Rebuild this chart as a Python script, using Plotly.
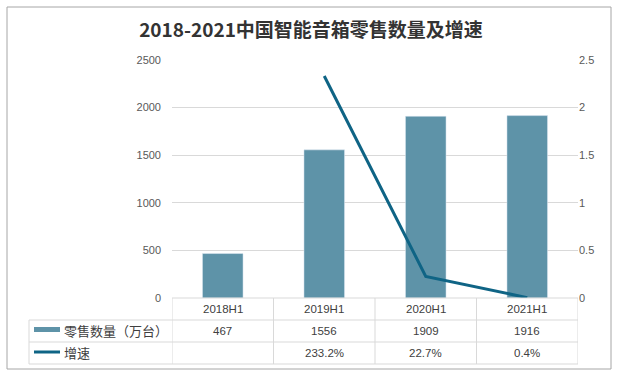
import plotly.graph_objects as go

categories = ["2018H1", "2019H1", "2020H1", "2021H1"]
sales = [467, 1556, 1909, 1916]
growth = [None, 2.332, 0.227, 0.004]
growth_labels = ["", "233.2%", "22.7%", "0.4%"]
left_ticks = [0, 500, 1000, 1500, 2000, 2500]
right_ticks = [0, 0.5, 1, 1.5, 2, 2.5]
right_tick_text = ["0", "0.5", "1", "1.5", "2", "2.5"]
series_names = ["零售数量（万台）", "增速"]
title_text = "2018-2021中国智能音箱零售数量及增速"

BAR = "#5E93A8"
LINE = "#0F6485"
GRID = "#D9D9D9"
TXT = "#595959"
FONT = "Noto Sans CJK SC"
NUMFONT = "Liberation Sans, Noto Sans CJK SC"

W, H = 619, 375
L, R, T, B = 172, 41, 60, 77
pw, ph = W - L - R, H - T - B

def px(x):
    return (x - L) / pw

def py(y):
    return (H - B - y) / ph

fig = go.Figure()
fig.add_trace(go.Bar(x=categories, y=sales, marker_color=BAR, width=0.4,
                     name=series_names[0], yaxis="y"))
fig.add_trace(go.Scatter(x=categories, y=growth, mode="lines",
                         line=dict(color=LINE, width=3), name=series_names[1],
                         yaxis="y2", connectgaps=False))

shapes = []
line_style = dict(color=GRID, width=1)
# outer border
shapes.append(dict(type="rect", xref="paper", yref="paper",
                   x0=px(7), x1=px(611), y0=py(369), y1=py(7),
                   line=dict(color="#A6A6A6", width=1), fillcolor="rgba(0,0,0,0)", layer="below"))
# table horizontal lines
row_y = [298, 320, 342, 364]
for i, yy in enumerate(row_y):
    x0 = px(172) if i == 0 else px(29)
    shapes.append(dict(type="line", xref="paper", yref="paper",
                       x0=x0, x1=1, y0=py(yy), y1=py(yy), line=line_style))
# table vertical lines
shapes.append(dict(type="line", xref="paper", yref="paper",
                   x0=px(29), x1=px(29), y0=py(320), y1=py(364), line=line_style))
for k in range(len(categories) + 1):
    shapes.append(dict(type="line", xref="x", yref="paper",
                       x0=k - 0.5, x1=k - 0.5, y0=py(298), y1=py(364), line=line_style))
# legend swatches
shapes.append(dict(type="rect", xref="paper", yref="paper",
                   x0=px(34), x1=px(60), y0=py(332), y1=py(327),
                   fillcolor=BAR, line=dict(width=0)))
shapes.append(dict(type="line", xref="paper", yref="paper",
                   x0=px(34), x1=px(60), y0=py(352), y1=py(352),
                   line=dict(color=LINE, width=3)))

annotations = []
fnt = dict(family=NUMFONT, size=11.5, color="#404040")
for i, c in enumerate(categories):
    annotations.append(dict(x=i, xref="x", y=py(309), yref="paper", yanchor="middle", text=c,
                            showarrow=False, font=fnt))
    annotations.append(dict(x=i, xref="x", y=py(331), yref="paper", yanchor="middle", text=str(sales[i]),
                            showarrow=False, font=fnt))
    annotations.append(dict(x=i, xref="x", y=py(353), yref="paper", yanchor="middle", text=growth_labels[i],
                            showarrow=False, font=fnt))
annotations.append(dict(x=px(62), xref="paper", y=py(330), yref="paper", yanchor="middle", text=series_names[0],
                        showarrow=False, xanchor="left", font=dict(family=FONT, size=13, color="#404040")))
annotations.append(dict(x=px(62), xref="paper", y=py(352), yref="paper", yanchor="middle", text=series_names[1],
                        showarrow=False, xanchor="left", font=dict(family=FONT, size=13, color="#404040")))

fig.update_layout(
    width=W, height=H,
    margin=dict(l=L, r=R, t=T, b=B),
    paper_bgcolor="white", plot_bgcolor="white",
    showlegend=False,
    title=dict(text="<b>" + title_text + "</b>", x=311 / W, xref="container", xanchor="center",
               y=1 - 30 / H, yref="container", yanchor="middle",
               font=dict(family=FONT, size=19, color="#333333")),
    xaxis=dict(type="category", range=[-0.5, 3.5], showticklabels=False, showgrid=False,
               zeroline=False, showline=False, ticks=""),
    yaxis=dict(range=[0, 2500], tickvals=left_ticks, showgrid=True, gridcolor=GRID,
               zeroline=False, showline=False, ticks="",
               tickfont=dict(family=NUMFONT, size=11, color=TXT), ticklabelstandoff=10),
    yaxis2=dict(range=[0, 2.5], tickvals=right_ticks, ticktext=right_tick_text,
                overlaying="y", side="right", showgrid=False, zeroline=False,
                showline=False, ticks="",
                tickfont=dict(family=NUMFONT, size=11, color=TXT), ticklabelstandoff=0),
    bargap=0.6,
    shapes=shapes,
    annotations=annotations,
)

fig.write_html("out.html", config={"displayModeBar": False},
               post_script="document.body.style.margin='0';")
